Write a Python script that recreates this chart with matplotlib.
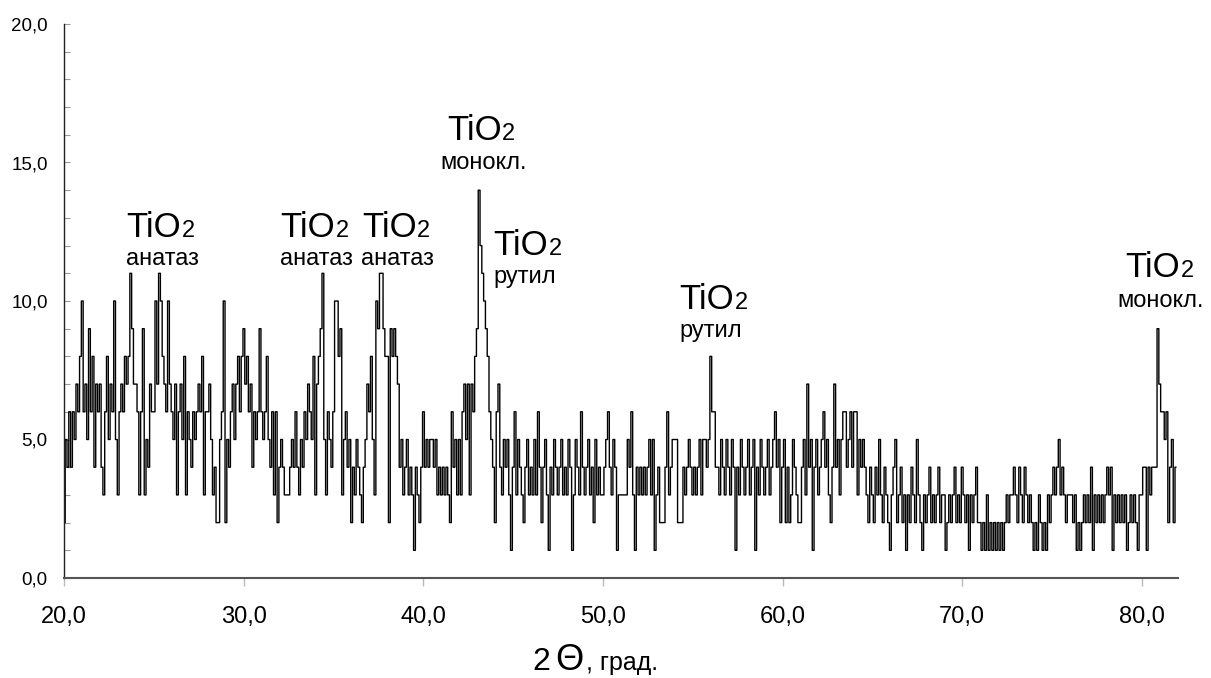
import numpy as np
import matplotlib
matplotlib.use("Agg")
import matplotlib.pyplot as plt
from matplotlib.ticker import MultipleLocator, FixedLocator

plt.rcParams['font.family'] = ['Liberation Sans', 'DejaVu Sans']

# ---- data: diffraction intensity, 2-theta from 20.0 deg with 0.1 deg step ----
theta_start = 20.0
theta_step = 0.1

counts_20_30 = [
    2, 5, 4, 6, 4, 6, 5, 7, 6, 8,
    10, 6, 7, 5, 9, 6, 8, 4, 7, 6,
    7, 4, 3, 6, 8, 5, 7, 6, 10, 5,
    3, 6, 7, 6, 8, 7, 8, 11, 9, 7,
    7, 6, 3, 6, 9, 3, 5, 4, 7, 6,
    6, 10, 7, 11, 10, 8, 7, 6, 10, 7,
    6, 5, 7, 3, 6, 7, 5, 8, 3, 6,
    5, 4, 6, 5, 6, 7, 6, 8, 3, 6,
    6, 7, 5, 3, 4, 2, 2, 5, 6, 10,
    2, 5, 4, 6, 7, 5, 7, 8, 6, 8,
]
counts_30_40 = [
    9, 7, 8, 6, 7, 4, 6, 5, 6, 9,
    6, 5, 6, 8, 5, 4, 6, 3, 6, 2,
    4, 5, 4, 3, 3, 3, 4, 5, 4, 6,
    4, 3, 5, 4, 6, 5, 7, 6, 5, 8,
    3, 7, 8, 9, 11, 5, 3, 6, 5, 4,
    6, 10, 10, 8, 9, 3, 5, 6, 4, 5,
    2, 4, 3, 5, 4, 3, 2, 4, 5, 7,
    6, 8, 5, 3, 10, 9, 11, 11, 9, 8,
    8, 2, 9, 8, 9, 8, 7, 4, 5, 3,
    4, 5, 3, 4, 3, 1, 4, 3, 2, 4,
]
counts_40_50 = [
    6, 4, 5, 4, 5, 5, 4, 5, 3, 4,
    3, 4, 3, 4, 3, 2, 6, 4, 5, 3,
    5, 3, 6, 7, 5, 7, 3, 7, 6, 8,
    9, 14, 12, 11, 10, 9, 8, 6, 5, 4,
    2, 6, 7, 4, 3, 5, 4, 5, 3, 1,
    4, 6, 3, 5, 4, 3, 2, 4, 5, 3,
    4, 3, 5, 3, 6, 4, 2, 4, 5, 3,
    1, 4, 3, 5, 4, 3, 4, 5, 3, 4,
    3, 5, 4, 1, 3, 5, 4, 3, 6, 4,
    3, 4, 5, 3, 4, 2, 5, 3, 4, 3,
]
counts_50_60 = [
    3, 4, 5, 6, 4, 3, 5, 4, 1, 3,
    3, 3, 3, 3, 5, 4, 6, 3, 1, 4,
    3, 4, 3, 4, 3, 4, 5, 3, 5, 1,
    3, 4, 2, 2, 2, 4, 6, 3, 4, 5,
    5, 5, 2, 2, 2, 4, 3, 4, 5, 4,
    3, 4, 3, 4, 5, 3, 5, 5, 4, 5,
    8, 6, 6, 4, 4, 3, 5, 4, 3, 5,
    4, 3, 5, 4, 1, 4, 3, 5, 4, 3,
    4, 5, 3, 4, 5, 1, 4, 3, 5, 4,
    3, 4, 5, 3, 4, 5, 6, 4, 5, 2,
]
counts_60_70 = [
    4, 5, 2, 4, 2, 3, 5, 4, 3, 2,
    2, 4, 5, 3, 7, 4, 5, 1, 4, 5,
    3, 4, 5, 6, 4, 5, 3, 2, 4, 7,
    4, 5, 3, 5, 6, 6, 4, 5, 6, 4,
    6, 6, 3, 5, 4, 5, 4, 3, 2, 4,
    3, 2, 4, 3, 5, 3, 2, 4, 3, 2,
    1, 3, 4, 5, 2, 3, 4, 2, 3, 1,
    3, 2, 4, 3, 2, 5, 3, 2, 1, 3,
    2, 3, 4, 2, 3, 2, 3, 4, 2, 3,
    3, 1, 2, 3, 2, 3, 4, 2, 3, 2,
]
counts_70_82 = [
    4, 3, 2, 3, 1, 3, 2, 3, 4, 2,
    2, 1, 2, 1, 3, 1, 2, 1, 2, 1,
    2, 1, 2, 1, 2, 3, 2, 3, 3, 4,
    3, 2, 4, 3, 2, 4, 3, 2, 3, 2,
    1, 2, 1, 3, 2, 1, 2, 1, 3, 2,
    3, 4, 3, 4, 5, 3, 4, 3, 2, 3,
    3, 3, 2, 3, 1, 2, 1, 2, 3, 2,
    3, 2, 4, 1, 3, 2, 3, 2, 3, 2,
    3, 4, 3, 4, 1, 3, 2, 3, 2, 3,
    2, 3, 1, 2, 3, 2, 3, 2, 1, 3,
    3, 4, 4, 1, 4, 3, 4, 4, 4, 9,
    7, 6, 6, 5, 6, 2, 4, 5, 2, 4,
]

intensity = (counts_20_30 + counts_30_40 + counts_40_50 +
             counts_50_60 + counts_60_70 + counts_70_82)
two_theta = theta_start + theta_step * np.arange(len(intensity))

# ---- peak annotations ----
phase_names = ['анатаз', 'анатаз', 'анатаз', 'монокл.', 'рутил', 'рутил', 'монокл.']
formula_x = [23.44, 32.02, 36.57, 41.30, 43.90, 54.26, 79.09]
formula_y = [12.30, 12.30, 12.30, 15.81, 11.66, 9.70, 10.85]
phase_x = [23.44, 32.00, 36.50, 40.93, 43.90, 54.26, 78.66]
phase_y = [11.30, 11.30, 11.30, 14.75, 10.64, 8.69, 9.80]

x_ticks = [20, 30, 40, 50, 60, 70, 80]
y_ticks = [0, 5, 10, 15, 20]
x_ticklabels = ['20,0', '30,0', '40,0', '50,0', '60,0', '70,0', '80,0']
y_ticklabels = ['0,0', '5,0', '10,0', '15,0', '20,0']

# ---- figure ----
W, H = 1211, 678
fig = plt.figure(figsize=(W / 100, H / 100), dpi=100)
ax = fig.add_axes([64.3 / W, (H - 578) / H, (1177.7 - 64.3) / W, (578 - 24) / H])

ax.plot(two_theta, intensity, color='black', lw=1.0, drawstyle='steps-mid')

ax.set_xlim(20, 82)
ax.set_ylim(0, 20)

for s in ['top', 'right']:
    ax.spines[s].set_visible(False)
ax.spines['left'].set_color('#222222')
ax.spines['left'].set_linewidth(1.0)
ax.spines['bottom'].set_color('#555555')
ax.spines['bottom'].set_linewidth(1.5)

ax.xaxis.set_major_locator(FixedLocator(x_ticks))
ax.set_xticklabels(x_ticklabels)
ax.yaxis.set_major_locator(FixedLocator(y_ticks))
ax.set_yticklabels(y_ticklabels)
ax.yaxis.set_minor_locator(MultipleLocator(1))

ax.tick_params(axis='x', which='major', direction='out', length=6, width=1,
               color='#bbbbbb', labelsize=17, pad=14)
ax.tick_params(axis='y', which='both', direction='in', length=4, width=0.8,
               color='#999999', labelsize=13.5, pad=12)

# annotations: "TiO" + smaller "2" on the baseline, phase name below
for fx, fy, px, py, name in zip(formula_x, formula_y, phase_x, phase_y, phase_names):
    t = ax.text(fx, fy, 'TiO', fontsize=25, ha='left', va='baseline')
    ax.annotate('2', xy=(1, 0), xycoords=t, xytext=(0.5, 1.7),
                textcoords='offset points', fontsize=17, ha='left', va='bottom')
    ax.text(px, py, name, fontsize=17, ha='left', va='baseline')

# axis title "2Θ, град."
base_y = (H - 670) / H
fig.text(532 / W, base_y, '2', fontsize=23, ha='left', va='baseline')
fig.text(555 / W, base_y, 'Θ', fontsize=26, ha='left', va='baseline')
fig.text(586 / W, base_y, ', град.', fontsize=18, ha='left', va='baseline')

fig.savefig('out.png', dpi=100)
